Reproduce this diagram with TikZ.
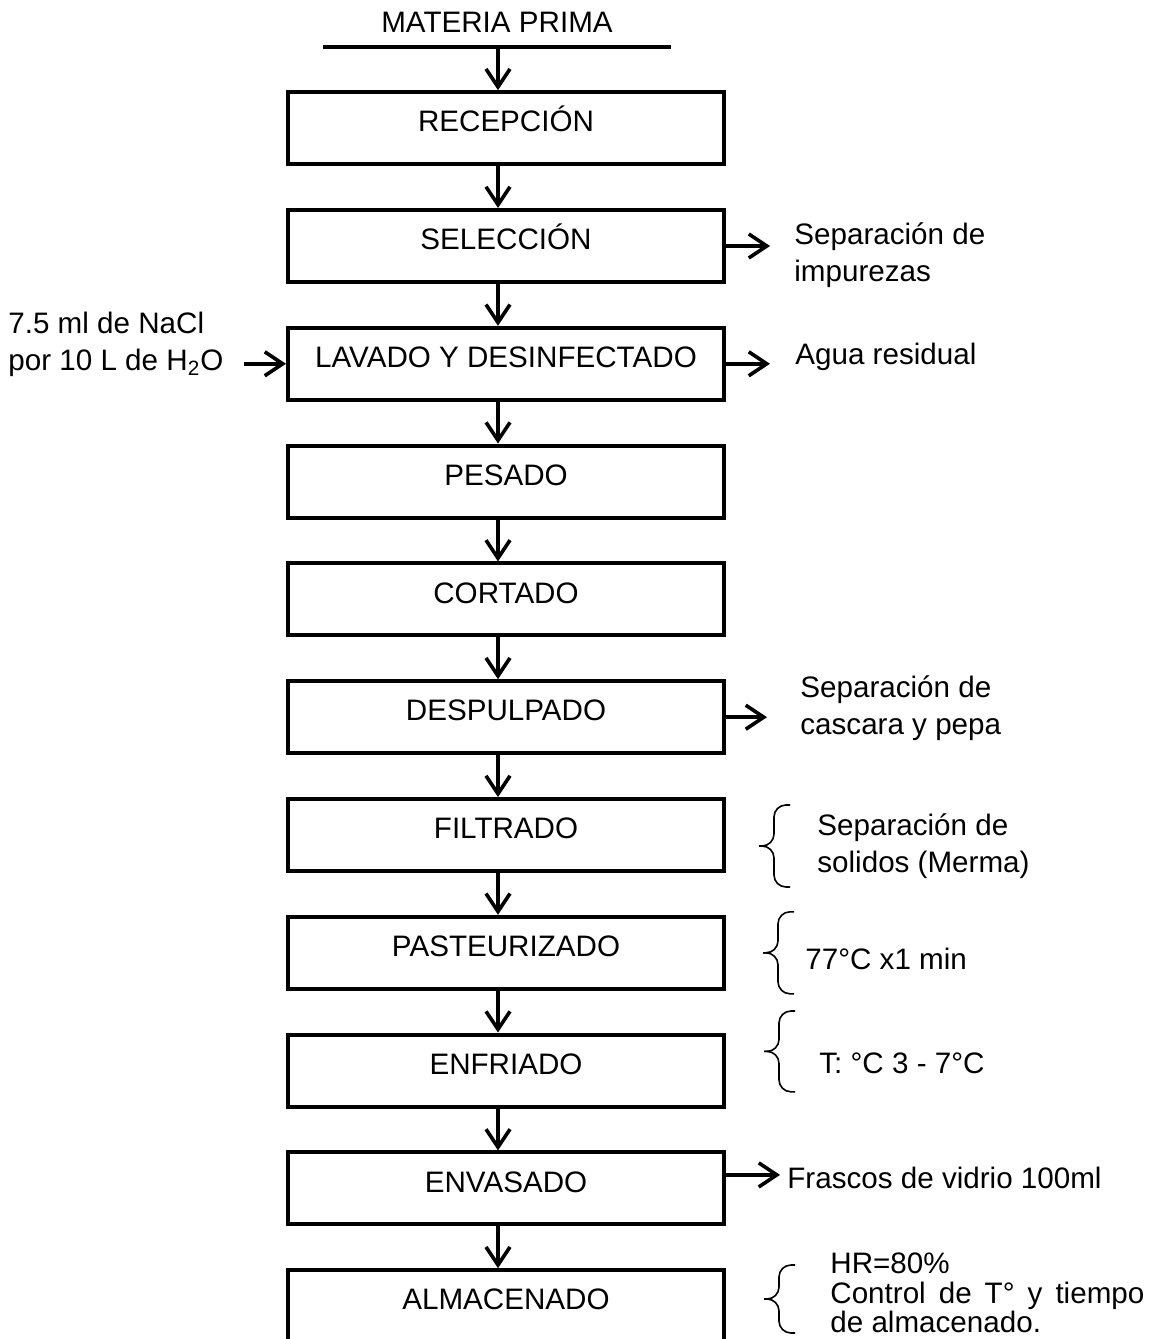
\documentclass[tikz,border=0pt]{standalone}
\usepackage{fontspec}
\setmainfont{Liberation Sans}
\usepackage{tikz}
\usetikzlibrary{positioning,arrows.meta,calc}
\tikzset{
proc/.style={
draw,
line width=2pt,
minimum width=218pt,
minimum height=36pt,
text height=10.6pt,
text depth=7pt,
align=center,
font=\fontsize{14.8pt}{17pt}\selectfont
},
note/.style={
inner sep=0pt,
align=left,
anchor=west,
font=\fontsize{14.8pt}{18.5pt}\selectfont
},
arrow/.style={
-{Straight Barb[length=9pt,width=12pt]},
line width=1.8pt
},
sidebrace/.pic={
\draw[line width=0.8pt,rounded corners=6pt] (8pt,#1) -| (0,0) -- (-7.5pt,0);
\draw[line width=0.8pt,rounded corners=6pt] (8pt,-#1) -| (0,0) -- (-7.5pt,0);
}
}

\begin{document}
\begin{tikzpicture}[node distance=20.9pt]
\useasboundingbox (0,0) rectangle (578pt,-669.5pt);
\node[proc] (rec) at (253pt,-64.1pt) {RECEPCIÓN};
\node[proc,below=of rec] (sel) {SELECCIÓN};
\node[proc,below=of sel] (lav) {LAVADO Y DESINFECTADO};
\node[proc,below=of lav] (pes) {PESADO};
\node[proc,below=of pes] (cor) {CORTADO};
\node[proc,below=of cor] (des) {DESPULPADO};
\node[proc,below=of des] (fil) {FILTRADO};
\node[proc,below=of fil] (pas) {PASTEURIZADO};
\node[proc,below=of pas] (enf) {ENFRIADO};
\node[proc,below=of enf] (env) {ENVASADO};
\node[proc,below=of env] (alm) {ALMACENADO};

% materia prima
\node[font=\fontsize{14.8pt}{17pt}\selectfont] (mp) at (248.5pt,-11pt) {MATERIA PRIMA};
\coordinate (mpl) at (161.5pt,-23.5pt);
\coordinate (mpr) at (335.5pt,-23.5pt);
\coordinate (mpin) at (249pt,-23.5pt);
\draw[line width=1.6pt] (mpl) -- (mpr);
\draw[arrow] (mpin) -- ([xshift=-4pt]rec.north);

\foreach \x/\y in {rec/sel,sel/lav,lav/pes,pes/cor,cor/des,des/fil,fil/pas,pas/enf,enf/env,env/alm}
\draw[arrow]([xshift=-4pt]\x.south)--([xshift=-4pt]\y.north);

% entradas y salidas
\coordinate[right=22pt of sel] (selout);
\draw[arrow] (sel) -- (selout);
\node[note] (selnote) at ($(sel.east)+(34pt,-4.5pt)$) {Separación de\\impurezas};

\coordinate[left=21pt of lav] (lavin);
\node[note] (lavinnote) at ($(lav.west)+(-139pt,9.5pt)$) {7.5 ml de NaCl\\por 10 L de H\textsubscript{2}O};
\draw[arrow] (lavin) -- (lav);
\coordinate[right=22pt of lav] (lavout);
\draw[arrow] (lav) -- (lavout);
\node[note] (lavnote) at ($(lav.east)+(34.5pt,3.5pt)$) {Agua residual};

\coordinate[right=20.5pt of des] (desout);
\draw[arrow] (des) -- (desout);
\node[note] (desnote) at ($(des.east)+(37pt,4.6pt)$) {Separación de\\cascara y pepa};

\pic at ($(fil.east)+(24pt,-5.5pt)$) {sidebrace=20.5pt};
\node[note] (filnote) at ($(fil.east)+(45.5pt,-5.5pt)$) {Separación de\\solidos (Merma)};

\pic at ($(pas.east)+(26pt,0pt)$) {sidebrace=20.5pt};
\node[note] (pasnote) at ($(pas.east)+(39.5pt,-3pt)$) {77°C x1 min};

\pic at ($(enf.east)+(26.5pt,9.6pt)$) {sidebrace=20.2pt};
\node[note] (enfnote) at ($(enf.east)+(46.5pt,3.9pt)$) {T: °C 3 - 7°C};

\coordinate (envout) at ($(env.east)+(27pt,6.75pt)$);
\draw[arrow] (env.east |- envout) -- (envout);
\node[note] (envnote) at ($(env.east)+(30.5pt,5.25pt)$) {Frascos de vidrio 100ml};

\pic at ($(alm.east)+(26.5pt,3.6pt)$) {sidebrace=17pt};
\node[note,font=\fontsize{14.8pt}{14.8pt}\selectfont] (almnote) at ($(alm.east)+(52pt,6.6pt)$) {HR=80\%\\\makebox[157pt][s]{Control de T° y tiempo}\\de almacenado.};
\end{tikzpicture}
\end{document}
